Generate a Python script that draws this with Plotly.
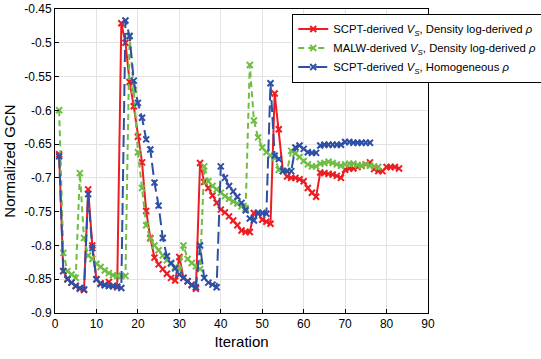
import plotly.graph_objects as go

red_vals = [-0.665, -0.838, -0.850, -0.855, -0.860, -0.864, -0.866, -0.717, -0.800, -0.850,
            -0.856, -0.858, -0.854, -0.860, -0.862, -0.471, -0.500, -0.558, -0.594, -0.639,
            -0.677, -0.749, -0.789, -0.818, -0.828, -0.835, -0.842, -0.848, -0.852, -0.817,
            -0.848, -0.853, -0.858, -0.864, -0.678, -0.706, -0.715, -0.726, -0.737, -0.747,
            -0.751, -0.757, -0.763, -0.770, -0.778, -0.780, -0.780, -0.752, -0.752, -0.762,
            -0.765, -0.768, -0.575, -0.628, -0.690, -0.698, -0.700, -0.700, -0.702, -0.705,
            -0.715, -0.722, -0.728, -0.692, -0.693, -0.694, -0.695, -0.697, -0.700, -0.688,
            -0.686, -0.686, -0.684, -0.682, -0.680, -0.677, -0.687, -0.690, -0.690, -0.684,
            -0.684, -0.684, -0.686]

green_vals = [-0.600, -0.811, -0.838, -0.843, -0.848, -0.693, -0.789, -0.815, -0.820, -0.827,
              -0.832, -0.837, -0.841, -0.844, -0.845, -0.845, -0.845, -0.490, -0.570, -0.662,
              -0.715, -0.770, -0.790, -0.800, -0.807, -0.815, -0.822, -0.827, -0.832, -0.836,
              -0.800, -0.820, -0.826, -0.831, -0.835, -0.683, -0.705, -0.712, -0.717, -0.722,
              -0.727, -0.731, -0.735, -0.738, -0.742, -0.745, -0.533, -0.615, -0.640, -0.655,
              -0.662, -0.667, -0.670, -0.688, -0.690, -0.690, -0.660, -0.664, -0.669, -0.675,
              -0.680, -0.683, -0.683, -0.679, -0.678, -0.676, -0.678, -0.680, -0.682, -0.680,
              -0.679, -0.679, -0.681, -0.682, -0.680, -0.682, -0.683, -0.684]

blue_vals = [-0.668, -0.838, -0.850, -0.855, -0.860, -0.863, -0.865, -0.724, -0.804, -0.850,
             -0.857, -0.859, -0.860, -0.860, -0.861, -0.863, -0.467, -0.490, -0.556, -0.589,
             -0.611, -0.643, -0.658, -0.707, -0.741, -0.789, -0.816, -0.826, -0.834, -0.843,
             -0.848, -0.853, -0.859, -0.862, -0.800, -0.848, -0.855, -0.858, -0.862, -0.683,
             -0.700, -0.712, -0.720, -0.728, -0.737, -0.748, -0.760, -0.763, -0.752, -0.752,
             -0.753, -0.560, -0.667, -0.672, -0.690, -0.690, -0.690, -0.655, -0.652, -0.657,
             -0.662, -0.663, -0.663, -0.652, -0.651, -0.651, -0.651, -0.651, -0.651, -0.647,
             -0.647, -0.648, -0.648, -0.648, -0.648, -0.648]

series_names = [
    "SCPT-derived <i>V</i><sub><i>S</i></sub>, Density log-derived <i>ρ</i>",
    "MALW-derived <i>V</i><sub><i>S</i></sub>, Density log-derived <i>ρ</i>",
    "SCPT-derived <i>V</i><sub><i>S</i></sub>, Homogeneous <i>ρ</i>",
]
x_ticks = [0, 10, 20, 30, 40, 50, 60, 70, 80, 90]
y_ticks = [-0.9, -0.85, -0.8, -0.75, -0.7, -0.65, -0.6, -0.55, -0.5, -0.45]
y_tick_text = ["-0.9", "-0.85", "-0.8", "-0.75", "-0.7", "-0.65", "-0.6", "-0.55", "-0.5", "-0.45"]

colors = ["#EE1D23", "#6FBE44", "#2F4FA5"]
dashes = ["solid", "6px,4px", "12px,5px"]
all_vals = [red_vals, green_vals, blue_vals]

fig = go.Figure()
for name, vals, c, d in zip(series_names, all_vals, colors, dashes):
    fig.add_trace(go.Scatter(
        x=list(range(1, len(vals) + 1)), y=vals, name=name, mode="lines+markers",
        line=dict(color=c, width=2, dash=d),
        marker=dict(symbol="x-thin", size=6, line=dict(color=c, width=2)),
    ))

axis_common = dict(showline=True, linecolor="black", linewidth=1, mirror=True,
                   ticks="inside", ticklen=4, tickcolor="black",
                   showgrid=True, gridcolor="#E3E3E3", gridwidth=1, zeroline=False,
                   tickfont=dict(size=12, color="black"))

fig.update_xaxes(range=[0, 90], tickvals=x_ticks,
                 title=dict(text="Iteration", font=dict(size=15, color="black"), standoff=6),
                 **axis_common)
fig.update_yaxes(range=[-0.9, -0.45], tickvals=y_ticks, ticktext=y_tick_text,
                 title=dict(text="Normalized GCN", font=dict(size=15, color="black"), standoff=4),
                 **axis_common)

fig.update_layout(
    width=541, height=359,
    margin=dict(l=55, r=113, t=9, b=46, autoexpand=False),
    paper_bgcolor="white", plot_bgcolor="white",
    font=dict(family="Liberation Sans, Arial, sans-serif", color="black"),
    showlegend=True,
    legend=dict(x=0.636, y=0.985, xanchor="left", yanchor="top",
                bgcolor="white", bordercolor="black", borderwidth=1,
                font=dict(size=11.3, color="black"), tracegroupgap=0,
                itemwidth=30),
)

fig.write_html("out.html")
